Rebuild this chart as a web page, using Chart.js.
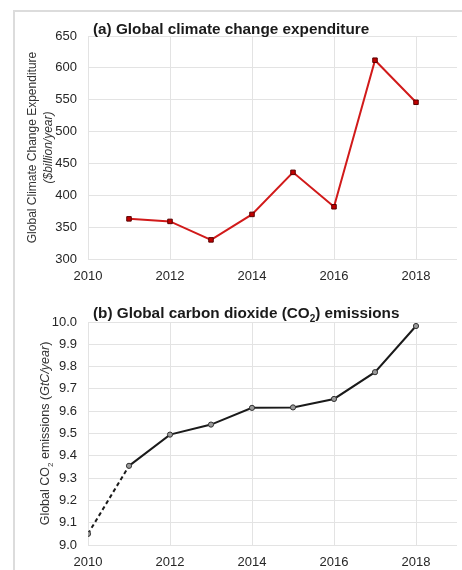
<!DOCTYPE html>
<html>
<head>
<meta charset="utf-8">
<script src="https://cdn.jsdelivr.net/npm/chart.js@4/dist/chart.umd.min.js"></script>
<style>
  html, body { margin: 0; padding: 0; background: #fff; }
  #wrap { position: relative; width: 462px; height: 570px; overflow: hidden; background: #fff; }
  #frame { position: absolute; left: 13px; top: 10px; width: 460px; height: 570px;
           border-left: 2px solid #dcdcdc; border-top: 2px solid #dcdcdc; box-sizing: border-box; }
  .cv { position: absolute; left: 0; }
</style>
</head>
<body>
<div id="wrap">
  <div id="frame"></div>
  <div class="cv" style="top:0px;width:462px;height:290px;"><canvas id="ca" width="462" height="290"></canvas></div>
  <div class="cv" style="top:290px;width:462px;height:280px;"><canvas id="cb" width="462" height="280"></canvas></div>
</div>
<script>
// ---- data ----
const yearsA = [2011, 2012, 2013, 2014, 2015, 2016, 2017, 2018];
const expenditure = [363, 359, 330, 370, 436, 382, 612, 546];

const yearsB = [2010, 2011, 2012, 2013, 2014, 2015, 2016, 2017, 2018];
const co2 = [9.05, 9.355, 9.495, 9.54, 9.615, 9.617, 9.655, 9.775, 9.982];

const xTicks = [2010, 2012, 2014, 2016, 2018];
const yTicksA = [300, 350, 400, 450, 500, 550, 600, 650];
const yTicksB = [9.0, 9.1, 9.2, 9.3, 9.4, 9.5, 9.6, 9.7, 9.8, 9.9, 10.0];

const titleA = [{t: '(a) Global climate change expenditure'}];
const titleB = [{t: '(b) Global carbon dioxide (CO'}, {t: '2', sub: true}, {t: ') emissions'}];
const yTitleA1 = [{t: 'Global Climate Change Expenditure'}];
const yTitleA2 = [{t: '($billion/year)', it: true}];
const yTitleB = [{t: 'Global CO'}, {t: '2', sub: true}, {t: ' emissions ('}, {t: 'GtC/year', it: true}, {t: ')'}];

const FONT = '"Liberation Sans", Arial, Helvetica, sans-serif';
Chart.defaults.font.family = FONT;
Chart.defaults.color = '#262626';

function fontFor(p, size, bold) {
  const s = p.sub ? Math.round(size * 0.65) : size;
  return (p.it ? 'italic ' : '') + (bold ? 'bold ' : '') + s + 'px ' + FONT;
}
function richWidth(ctx, parts, size, bold) {
  let w = 0;
  for (const p of parts) { ctx.font = fontFor(p, size, bold); w += ctx.measureText(p.t).width; }
  return w;
}
function drawRich(ctx, parts, x, y, size, bold, color) {
  ctx.fillStyle = color;
  ctx.textBaseline = 'alphabetic';
  ctx.textAlign = 'left';
  for (const p of parts) {
    ctx.font = fontFor(p, size, bold);
    ctx.fillText(p.t, x, y + (p.sub ? size * 0.28 : 0));
    x += ctx.measureText(p.t).width;
  }
}

const textPlugin = {
  id: 'textPlugin',
  afterDraw(chart, args, opts) {
    const ctx = chart.ctx;
    const ca = chart.chartArea;
    ctx.save();
    // title
    drawRich(ctx, opts.title, ca.left + 5, ca.top - opts.titleGap, opts.titleSize, true, '#1a1a1a');
    // y axis titles (rotated)
    const cy = (ca.top + ca.bottom) / 2;
    for (const line of opts.yTitles) {
      ctx.save();
      ctx.translate(line.x, cy);
      ctx.rotate(-Math.PI / 2);
      const w = richWidth(ctx, line.parts, opts.ySize, false);
      drawRich(ctx, line.parts, -w / 2, 0, opts.ySize, false, '#333333');
      ctx.restore();
    }
    ctx.restore();
  }
};

function xScale() {
  return {
    type: 'linear', min: 2010, max: 2019,
    afterBuildTicks(s) { s.ticks = xTicks.map(v => ({value: v})); },
    afterFit(s) { s.height = 31; },
    grid: { color: '#e3e3e3', lineWidth: 1, drawTicks: false },
    border: { display: false },
    ticks: { padding: 10, font: { size: 13 }, color: '#262626', maxRotation: 0,
             callback: v => String(v) }
  };
}

new Chart(document.getElementById('ca'), {
  type: 'line',
  data: {
    datasets: [{
      data: yearsA.map((x, i) => ({x, y: expenditure[i]})),
      borderColor: '#d11a1a', borderWidth: 2,
      pointStyle: 'rect', pointRadius: 3.2,
      pointBackgroundColor: '#c00000', pointBorderColor: '#5a0000', pointBorderWidth: 1,
      tension: 0
    }]
  },
  options: {
    responsive: false, animation: false, devicePixelRatio: 1,
    layout: { padding: { left: 0, right: 2, top: 36, bottom: 0 } },
    plugins: { legend: { display: false }, tooltip: { enabled: false },
      textPlugin: { title: titleA, titleSize: 15.3, titleGap: 2, ySize: 12,
        yTitles: [{x: 36, parts: yTitleA1}, {x: 52, parts: yTitleA2}] } },
    scales: {
      x: xScale(),
      y: {
        min: 300, max: 650,
        afterBuildTicks(s) { s.ticks = yTicksA.map(v => ({value: v})); },
        afterFit(s) { s.width = 88; },
        grid: { color: '#e3e3e3', lineWidth: 1, drawTicks: false },
        border: { display: false },
        ticks: { padding: 11, font: { size: 13 }, color: '#262626', callback: v => String(v) }
      }
    }
  },
  plugins: [textPlugin]
});

new Chart(document.getElementById('cb'), {
  type: 'line',
  data: {
    datasets: [{
      data: yearsB.map((x, i) => ({x, y: co2[i]})),
      borderColor: '#1a1a1a', borderWidth: 2,
      segment: { borderDash: ctx => ctx.p0DataIndex === 0 ? [4, 3] : undefined },
      pointStyle: 'circle', pointRadius: 2.6,
      pointBackgroundColor: '#9a9a9a', pointBorderColor: '#333333', pointBorderWidth: 1,
      tension: 0
    }]
  },
  options: {
    responsive: false, animation: false, devicePixelRatio: 1,
    layout: { padding: { left: 0, right: 2, top: 32, bottom: 0 } },
    plugins: { legend: { display: false }, tooltip: { enabled: false },
      textPlugin: { title: titleB, titleSize: 15.3, titleGap: 4, ySize: 12.5,
        yTitles: [{x: 49, parts: yTitleB}] } },
    scales: {
      x: Object.assign(xScale(), { afterFit(s) { s.height = 25; } }),
      y: {
        min: 9.0, max: 10.0,
        afterBuildTicks(s) { s.ticks = yTicksB.map(v => ({value: v})); },
        afterFit(s) { s.width = 88; },
        grid: { color: '#e3e3e3', lineWidth: 1, drawTicks: false },
        border: { display: false },
        ticks: { padding: 11, font: { size: 13 }, color: '#262626', callback: v => Number(v).toFixed(1) }
      }
    }
  },
  plugins: [textPlugin]
});
</script>
</body>
</html>
